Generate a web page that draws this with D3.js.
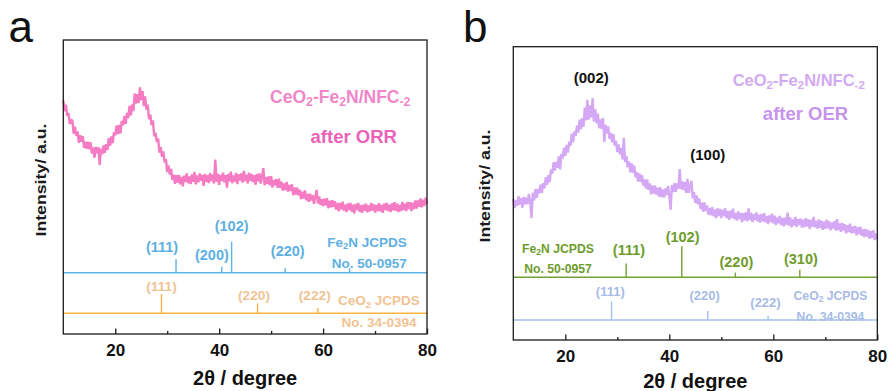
<!DOCTYPE html>
<html>
<head>
<meta charset="utf-8">
<script src="https://cdn.jsdelivr.net/npm/d3@7"></script>
<style>
  body { margin: 0; background: #fff; }
  svg { display: block; font-family: Arial, "Liberation Sans", sans-serif; }
</style>
</head>
<body>
<svg id="chart" width="888" height="391"></svg>
<script>
// 2θ sampling of the measured scans
const twoThetaStart = 10;
const twoThetaStep = 0.25;

const xTicks = [20, 40, 60, 80];
const xMinorTicks = [30, 50, 70];

// CeO2-Fe2N/NFC-2 after ORR (a.u.)
const orrIntensity = [
  79.5, 75.8, 78.0, 74.2, 75.2, 71.4, 72.7, 72.7, 68.1, 70.5, 67.4, 68.9,
  65.0, 67.6, 65.4, 67.3, 63.3, 65.4, 63.0, 65.4, 62.8, 65.2, 61.4, 63.5,
  60.0, 63.6, 61.5, 63.5, 57.5, 63.1, 61.1, 64.1, 61.6, 64.6, 62.6, 66.6,
  64.0, 67.2, 64.9, 68.6, 67.6, 70.9, 68.0, 71.1, 68.2, 72.5, 71.0, 74.1,
  71.5, 75.2, 73.4, 77.6, 74.4, 78.1, 75.8, 81.8, 78.4, 81.6, 78.6, 83.9,
  79.6, 82.6, 77.5, 80.8, 76.3, 78.0, 73.1, 74.6, 71.0, 72.7, 67.2, 68.5,
  65.3, 66.5, 61.7, 63.6, 60.3, 62.1, 58.4, 59.5, 55.1, 57.3, 54.2, 56.2,
  52.4, 54.2, 51.1, 54.0, 51.5, 54.1, 50.9, 53.4, 50.2, 53.9, 51.7, 54.6,
  51.3, 53.6, 51.0, 54.3, 51.8, 55.1, 50.9, 53.9, 51.6, 54.6, 52.1, 54.1,
  50.4, 54.4, 51.7, 54.0, 51.3, 54.7, 52.0, 54.2, 51.2, 59.3, 51.8, 54.5,
  50.7, 54.1, 52.0, 54.9, 51.6, 54.0, 49.8, 54.5, 51.9, 55.2, 51.3, 53.9,
  51.8, 54.8, 51.0, 54.3, 52.2, 54.6, 51.5, 55.5, 52.0, 54.2, 51.2, 54.9,
  52.1, 54.4, 51.7, 54.0, 50.8, 54.4, 51.9, 54.6, 51.2, 53.6, 56.4, 50.6,
  53.4, 51.1, 53.6, 50.6, 53.7, 49.8, 52.4, 50.6, 52.7, 49.7, 52.8, 49.7,
  51.8, 48.8, 51.2, 49.0, 51.7, 48.4, 50.7, 48.7, 50.9, 47.2, 49.8, 47.4,
  49.8, 47.2, 49.1, 45.9, 48.4, 46.1, 48.8, 45.5, 47.6, 45.0, 47.7, 45.4,
  47.2, 44.3, 46.7, 49.0, 44.4, 46.8, 43.9, 45.8, 43.5, 46.0, 43.8, 46.2,
  42.8, 45.3, 43.1, 45.5, 43.2, 45.2, 42.3, 44.6, 41.7, 44.6, 42.4, 45.0,
  42.0, 44.0, 41.5, 44.4, 42.2, 44.6, 41.6, 44.0, 41.0, 44.2, 42.2, 44.6,
  41.6, 43.8, 41.2, 44.0, 41.9, 44.3, 41.4, 43.7, 41.7, 44.6, 42.0, 44.1,
  41.3, 43.9, 41.8, 44.5, 41.7, 43.9, 41.2, 44.3, 42.2, 44.6, 41.8, 44.0,
  41.5, 44.4, 42.1, 44.8, 41.9, 44.3, 41.5, 43.9, 41.8, 44.9, 42.2, 44.3,
  41.8, 44.8, 42.5, 44.8, 41.8, 44.6, 42.5, 45.4, 42.7, 45.4, 43.3, 46.1,
  43.1, 45.7, 43.6, 46.4, 44.2
];

// CeO2-Fe2N/NFC-2 after OER (a.u.)
const oerIntensity = [
  48.1, 45.0, 47.7, 45.7, 49.0, 46.2, 48.4, 45.1, 48.8, 46.3, 48.5, 46.3,
  49.8, 47.3, 41.5, 50.2, 47.6, 51.4, 48.5, 51.5, 50.0, 53.0, 50.2, 53.5,
  51.7, 55.5, 52.9, 56.2, 53.8, 58.1, 56.7, 60.6, 57.8, 60.8, 58.7, 62.6,
  58.2, 63.5, 61.9, 65.6, 62.8, 66.5, 63.9, 67.6, 66.2, 70.4, 67.4, 71.1,
  69.6, 73.1, 70.7, 75.1, 71.9, 75.6, 72.7, 79.2, 74.9, 81.9, 75.1, 80.0,
  75.9, 82.5, 74.5, 78.7, 73.9, 77.2, 72.2, 75.2, 72.0, 75.7, 67.5, 73.4,
  70.4, 72.8, 68.6, 70.6, 67.4, 70.2, 66.3, 67.9, 64.1, 66.7, 63.3, 65.5,
  61.6, 68.9, 60.6, 62.8, 58.9, 60.9, 57.2, 60.2, 57.0, 59.5, 55.5, 57.3,
  54.0, 56.8, 53.9, 56.2, 52.6, 54.8, 51.6, 54.7, 51.2, 53.4, 49.7, 52.6,
  49.9, 52.6, 49.6, 51.9, 48.9, 52.1, 48.7, 51.3, 48.6, 51.7, 49.4, 52.5,
  49.2, 44.4, 52.8, 50.4, 53.5, 50.5, 53.4, 51.6, 58.3, 51.4, 54.1, 51.1,
  53.9, 50.2, 54.9, 50.2, 52.6, 54.3, 48.4, 50.4, 46.8, 49.3, 46.3, 48.3,
  44.7, 46.8, 43.8, 46.9, 44.0, 45.9, 42.8, 45.0, 42.5, 45.3, 42.2, 44.4,
  41.6, 44.9, 42.3, 44.7, 41.6, 44.3, 42.3, 44.9, 41.6, 43.9, 41.0, 44.1,
  41.6, 44.8, 41.2, 43.3, 40.7, 43.8, 41.2, 43.3, 40.2, 43.2, 40.8, 43.6,
  40.5, 44.9, 40.9, 43.3, 40.2, 42.9, 40.9, 43.5, 40.4, 42.7, 40.0, 43.0,
  40.5, 43.2, 40.1, 42.3, 39.5, 42.5, 40.2, 43.1, 39.8, 42.4, 39.2, 41.8,
  39.8, 42.3, 39.2, 41.6, 38.8, 41.7, 39.3, 43.4, 39.0, 41.8, 38.4, 41.1,
  39.0, 42.0, 38.6, 41.2, 39.2, 41.4, 38.3, 41.0, 38.5, 41.5, 38.8, 41.1,
  37.9, 40.9, 38.7, 42.0, 38.4, 40.6, 38.0, 41.1, 38.3, 40.7, 37.6, 40.3,
  37.9, 41.0, 38.1, 40.5, 37.4, 40.0, 38.0, 40.5, 37.3, 41.2, 37.5, 39.7,
  36.9, 39.9, 37.3, 39.5, 36.4, 39.1, 36.8, 39.7, 36.4, 38.7, 36.6, 38.9,
  35.7, 38.4, 36.1, 38.6, 35.5, 37.7, 35.1, 37.9, 35.3, 37.5, 34.5, 37.1,
  34.9, 37.4, 34.1, 36.3, 34.4
];

// reference stick patterns (2θ, relative intensity)
const fe2nPeaksA = [31.7, 40.5, 42.4, 52.7, 65.1];
const fe2nRelA = [43, 19, 100, 14, 15];
const fe2nHklA = ['(111)', '(200)', '(102)', '(220)'];
const fe2nPeaksB = [31.7, 42.4, 52.7, 65.1];
const fe2nRelB = [44, 100, 15, 24];
const fe2nHklB = ['(111)', '(102)', '(220)', '(310)'];
const ceo2Peaks = [28.9, 47.4, 59.0];
const ceo2RelA = [62, 32, 17];
const ceo2RelB = [60, 29, 14];
const ceo2Hkl = ['(111)', '(220)', '(222)'];
const carbonHkl = ['(002)', '(100)'];

const fe2nCard = 'No. 50-0957';
const ceo2Card = 'No. 34-0394';

// ---- layout ----
const panels = [
  {
    letter: 'a', letterX: 8.5, left: 63.3, top: 40, width: 363.7, height: 294,
    curve: orrIntensity, curveColor: '#f57cc2',
    title: { x: 63.3, y: 56.7, size: 17.5, color: '#f086c8' },
    sub: { text: 'after ORR', x: 65.9, y: 96.7, color: '#eb62b9' },
    yLabel: [41, 180],
    patterns: [
      { peaks: fe2nPeaksA, rel: fe2nRelA, hkl: fe2nHklA, base: 20.85,
        line: '#5ab4e6', text: '#5eb0e2', hklSize: 14.5,
        hklPos: [[29.0, 206.7], [38.6, 215], [42.4, 186], [53.2, 211]],
        name: ['Fe', '2', 'N JCPDS'], card: fe2nCard, nameSize: 13.5, anchor: 'end',
        namePos: [76.1, 201.7], cardPos: [76.1, 223.3] },
      { peaks: ceo2Peaks, rel: ceo2RelA, hkl: ceo2Hkl, base: 7.04,
        line: '#f5b245', text: '#f1c393', hklSize: 13.7,
        hklPos: [[28.9, 246.7], [46.7, 255], [58.4, 255]],
        name: ['CeO', '2', ' JCPDS'], card: ceo2Card, nameSize: 13.5, anchor: 'end',
        namePos: [78.6, 260], cardPos: [78.0, 282.7] }
    ],
    extra: []
  },
  {
    letter: 'b', letterX: 463, left: 513.3, top: 46.7, width: 364, height: 293.3,
    curve: oerIntensity, curveColor: '#d4a8f5',
    title: { x: 64.9, y: 33.3, size: 16.5, color: '#d2aaf2' },
    sub: { text: 'after OER', x: 66.2, y: 66.6, color: '#c793ec' },
    yLabel: [485, 186],
    patterns: [
      { peaks: fe2nPeaksB, rel: fe2nRelB, hkl: fe2nHklB, base: 21.4,
        line: '#74a034', text: '#6e9c2c', hklSize: 14.5,
        hklPos: [[32.25, 203.3], [42.55, 190], [52.9, 215.3], [65.3, 212.3]],
        name: ['Fe', '2', 'N JCPDS'], card: fe2nCard, nameSize: 12.2, anchor: 'middle',
        namePos: [18.6, 202.3], cardPos: [18.6, 222.3] },
      { peaks: ceo2Peaks, rel: ceo2RelB, hkl: ceo2Hkl, base: 6.8,
        line: '#a3c0ee', text: '#a6bce6', hklSize: 13,
        hklPos: [[28.65, 245], [46.8, 249.3], [58.5, 256.3]],
        name: ['CeO', '2', ' JCPDS'], card: ceo2Card, nameSize: 12.2, anchor: 'middle',
        namePos: [71, 249.3], cardPos: [71, 270] }
    ],
    extra: [[25.0, 31.3], [47.4, 108.3]]
  }
];

const svg = d3.select('#chart');

// text with subscript parts: [normal, sub, normal, ...]
function richText(sel, parts, size) {
  parts.forEach((p, i) => {
    const isSub = i % 2 === 1;
    sel.append('tspan')
      .attr('font-size', isSub ? size * 0.7 : size)
      .attr('dy', isSub ? size * 0.28 : (i > 0 ? -size * 0.28 : 0))
      .text(p);
  });
}

panels.forEach(p => {
  const x = d3.scaleLinear().domain([10, 80]).range([0, p.width]);
  const y = d3.scaleLinear().domain([0, 100]).range([p.height, 0]);
  const stick = d3.scaleLinear().domain([0, 100]).range([0, 31]);

  svg.append('text')
    .attr('x', p.letterX).attr('y', 42)
    .attr('font-size', 44).attr('fill', '#111')
    .text(p.letter);

  const g = svg.append('g').attr('transform', `translate(${p.left},${p.top})`);

  // curve (noisy scan drawn a bit heavy so it reads as a band)
  const line = d3.line()
    .x((d, i) => x(twoThetaStart + i * twoThetaStep))
    .y(d => y(d));
  g.append('path')
    .datum(p.curve)
    .attr('d', line)
    .attr('fill', 'none')
    .attr('stroke', p.curveColor)
    .attr('stroke-width', 2.4)
    .attr('stroke-linejoin', 'bevel');

  // stick patterns
  p.patterns.forEach(pt => {
    const by = y(pt.base);
    g.append('line')
      .attr('x1', x(10)).attr('x2', x(80))
      .attr('y1', by).attr('y2', by)
      .attr('stroke', pt.line).attr('stroke-width', 1.4);
    g.selectAll(null)
      .data(pt.peaks)
      .enter().append('line')
      .attr('x1', d => x(d)).attr('x2', d => x(d))
      .attr('y1', by).attr('y2', (d, i) => by - stick(pt.rel[i]))
      .attr('stroke', pt.line).attr('stroke-width', 1.4);

    g.selectAll(null)
      .data(pt.hkl)
      .enter().append('text')
      .attr('x', (d, i) => x(pt.hklPos[i][0]))
      .attr('y', (d, i) => pt.hklPos[i][1])
      .attr('text-anchor', 'middle')
      .attr('dominant-baseline', 'central')
      .attr('font-size', pt.hklSize)
      .attr('font-weight', 'bold')
      .attr('fill', pt.text)
      .text(d => d);

    const nm = g.append('text')
      .attr('x', x(pt.namePos[0])).attr('y', pt.namePos[1])
      .attr('text-anchor', pt.anchor)
      .attr('dominant-baseline', 'central')
      .attr('font-weight', 'bold')
      .attr('fill', pt.text);
    richText(nm, pt.name, pt.nameSize);

    g.append('text')
      .attr('x', x(pt.cardPos[0])).attr('y', pt.cardPos[1])
      .attr('text-anchor', pt.anchor)
      .attr('dominant-baseline', 'central')
      .attr('font-size', pt.nameSize)
      .attr('font-weight', 'bold')
      .attr('fill', pt.text)
      .text(pt.card);
  });

  // carbon reflections (panel b)
  g.selectAll(null)
    .data(p.extra)
    .enter().append('text')
    .attr('x', d => x(d[0]))
    .attr('y', d => d[1])
    .attr('text-anchor', 'middle')
    .attr('dominant-baseline', 'central')
    .attr('font-size', 15)
    .attr('font-weight', 'bold')
    .attr('fill', '#111')
    .text((d, i) => carbonHkl[i]);

  // sample labels
  const t = g.append('text')
    .attr('x', x(p.title.x)).attr('y', p.title.y)
    .attr('text-anchor', 'middle')
    .attr('dominant-baseline', 'central')
    .attr('font-weight', 'bold')
    .attr('fill', p.title.color);
  richText(t, ['CeO', '2', '-Fe', '2', 'N/NFC', '-2'], p.title.size);

  g.append('text')
    .attr('x', x(p.sub.x)).attr('y', p.sub.y)
    .attr('text-anchor', 'middle')
    .attr('dominant-baseline', 'central')
    .attr('font-size', 18.5)
    .attr('font-weight', 'bold')
    .attr('fill', p.sub.color)
    .text(p.sub.text);

  // frame + inward ticks
  g.append('rect')
    .attr('width', p.width).attr('height', p.height)
    .attr('fill', 'none').attr('stroke', '#1a1a1a').attr('stroke-width', 1.3);

  const axis = g.append('g')
    .attr('transform', `translate(0,${p.height})`)
    .call(d3.axisBottom(x).tickValues(xTicks).tickSizeInner(-5.5).tickSizeOuter(0).tickPadding(10));
  axis.select('.domain').remove();
  axis.selectAll('line').attr('stroke', '#1a1a1a').attr('stroke-width', 1.3);
  axis.selectAll('text')
    .attr('font-size', 17).attr('font-weight', 'bold')
    .attr('font-family', 'Arial, "Liberation Sans", sans-serif')
    .attr('fill', '#111');

  const minor = g.append('g')
    .attr('transform', `translate(0,${p.height})`)
    .call(d3.axisBottom(x).tickValues(xMinorTicks).tickSize(-3).tickFormat(''));
  minor.select('.domain').remove();
  minor.selectAll('line').attr('stroke', '#1a1a1a').attr('stroke-width', 1.3);

  g.append('text')
    .attr('x', p.width / 2).attr('y', Math.min(p.height + 44, 381 - p.top))
    .attr('text-anchor', 'middle')
    .attr('dominant-baseline', 'central')
    .attr('font-size', 20).attr('font-weight', 'bold')
    .attr('fill', '#111')
    .text('2θ / degree');

  svg.append('text')
    .attr('transform', `translate(${p.yLabel[0]},${p.yLabel[1]}) rotate(-90)`)
    .attr('text-anchor', 'middle')
    .attr('dominant-baseline', 'central')
    .attr('font-size', 14.5)
    .attr('font-weight', 'bold')
    .attr('textLength', 113)
    .attr('lengthAdjust', 'spacingAndGlyphs')
    .attr('fill', '#1a1a1a')
    .text('Intensity/ a.u.');
});
</script>
</body>
</html>
